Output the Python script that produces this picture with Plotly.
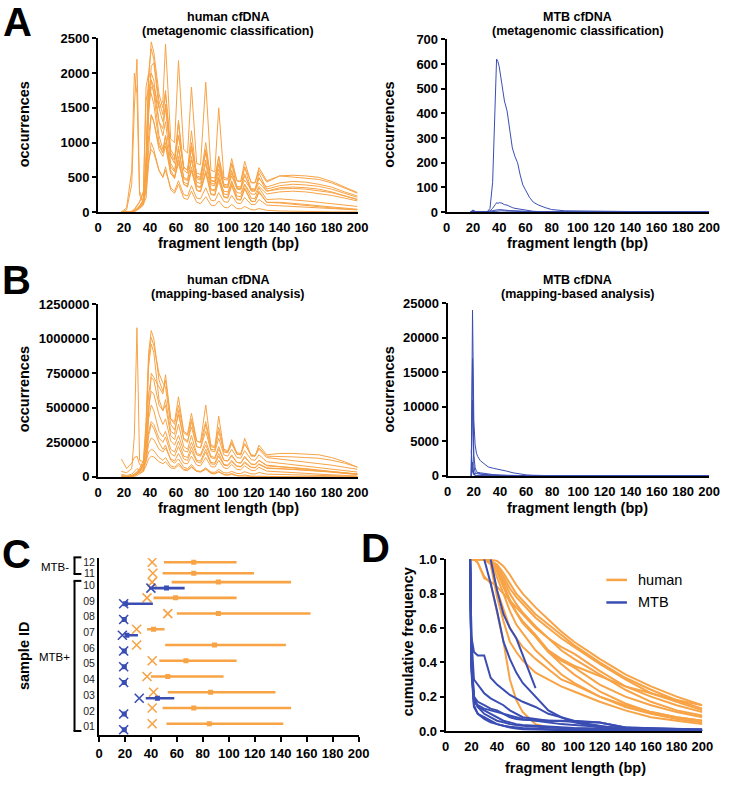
import plotly.graph_objects as go

W, H = 729, 790
ORANGE = "#F7A346"
BLUE = "#3A4DB3"
FONT = "Liberation Sans, Arial, sans-serif"

# ---------------- panel A / B : human fragment length profiles ----------------
# fragment lengths (bp) at which peaks / troughs were read off the picture
len_human = [18, 22, 26, 28, 30, 32, 35, 37, 39, 41, 43, 47, 50, 52, 56, 59, 62, 66, 69, 72, 76, 79,
             83, 87, 90, 93, 97, 100, 103, 107, 110, 113, 118, 121, 124, 130, 140, 150, 160, 170,
             180, 190, 200]

human_meta = [
    [0, 0, 0, 10, 30, 60, 150, 600, 1400, 1900, 1800, 1500, 1600, 2420, 1050, 1000, 2180, 900, 850, 1800, 700, 680, 1870, 600, 580, 1500, 500, 480, 770, 450, 440, 730, 420, 420, 640, 450, 520, 500, 490, 470, 420, 340, 270],
    [0, 0, 0, 10, 40, 80, 150, 700, 1900, 2450, 2300, 1700, 1500, 1750, 900, 800, 1100, 650, 600, 900, 520, 500, 860, 460, 440, 700, 400, 390, 560, 370, 360, 520, 340, 330, 480, 360, 420, 440, 430, 400, 360, 290, 230],
    [0, 0, 0, 15, 50, 90, 180, 800, 2000, 2350, 2200, 1600, 1400, 1700, 850, 750, 1320, 640, 600, 1170, 500, 480, 1000, 450, 430, 800, 380, 370, 700, 350, 340, 650, 320, 320, 560, 330, 380, 400, 390, 370, 330, 270, 210],
    [0, 0, 0, 10, 30, 60, 120, 500, 1500, 2100, 2150, 1500, 1300, 1550, 800, 700, 1280, 600, 560, 1000, 480, 460, 870, 420, 400, 700, 360, 350, 600, 330, 320, 550, 300, 300, 500, 300, 350, 360, 350, 330, 290, 240, 180],
    [0, 0, 10, 40, 100, 150, 300, 1800, 2000, 1900, 1700, 1100, 900, 1100, 600, 500, 800, 400, 370, 650, 320, 300, 600, 260, 250, 500, 220, 210, 400, 190, 180, 350, 160, 150, 300, 140, 130, 110, 90, 70, 60, 45, 35],
    [0, 0, 0, 10, 40, 80, 160, 700, 1700, 2000, 1900, 1300, 1100, 1300, 700, 600, 950, 480, 450, 750, 380, 360, 700, 320, 300, 560, 260, 250, 450, 230, 220, 400, 200, 190, 350, 180, 190, 180, 160, 140, 120, 100, 80],
    [0, 30, 400, 1500, 2200, 300, 150, 300, 900, 1400, 1300, 950, 850, 1100, 650, 580, 900, 500, 470, 800, 430, 410, 750, 390, 380, 620, 360, 350, 520, 340, 330, 460, 320, 310, 420, 300, 330, 340, 330, 310, 280, 230, 180],
    [0, 60, 600, 2000, 1700, 250, 120, 200, 700, 1000, 900, 600, 500, 650, 320, 270, 400, 200, 180, 300, 140, 120, 220, 100, 90, 160, 70, 60, 110, 50, 45, 80, 35, 30, 50, 25, 15, 10, 6, 4, 3, 2, 1],
    [0, 0, 10, 30, 90, 140, 280, 1600, 1800, 1700, 1550, 1000, 850, 1000, 560, 480, 750, 400, 360, 600, 310, 290, 560, 250, 240, 450, 210, 200, 380, 180, 170, 330, 150, 150, 280, 140, 140, 130, 110, 90, 70, 55, 40],
    [0, 0, 0, 10, 40, 70, 130, 600, 1500, 1800, 1750, 1300, 1200, 1500, 800, 750, 1100, 650, 600, 950, 560, 540, 900, 500, 490, 800, 470, 460, 700, 450, 440, 650, 430, 420, 600, 430, 520, 530, 520, 500, 440, 360, 280],
    [0, 0, 0, 10, 30, 60, 120, 400, 1100, 1400, 1300, 900, 800, 950, 550, 500, 700, 430, 400, 600, 370, 350, 560, 330, 320, 480, 300, 290, 430, 280, 270, 400, 260, 255, 370, 260, 290, 300, 290, 270, 240, 200, 160],
    [0, 0, 0, 10, 30, 50, 100, 350, 750, 900, 850, 600, 500, 600, 350, 300, 450, 250, 230, 380, 200, 190, 350, 170, 160, 280, 150, 140, 240, 130, 120, 210, 110, 105, 180, 100, 90, 80, 70, 60, 50, 40, 30],
]

# mapping-based human counts, in thousands
human_map_k = [
    [0, 0, 0, 5, 10, 20, 40, 150, 500, 750, 720, 650, 600, 740, 420, 400, 580, 330, 310, 460, 260, 250, 520, 220, 210, 440, 190, 180, 270, 165, 160, 280, 150, 150, 230, 160, 170, 170, 165, 160, 140, 110, 70],
    [0, 0, 0, 10, 30, 60, 120, 400, 900, 1060, 1000, 700, 620, 700, 420, 380, 520, 320, 300, 420, 260, 250, 400, 230, 220, 360, 200, 190, 250, 175, 170, 240, 160, 155, 200, 140, 130, 120, 110, 100, 85, 70, 55],
    [0, 0, 0, 10, 20, 50, 100, 350, 850, 1010, 950, 750, 680, 650, 380, 340, 450, 280, 260, 360, 220, 210, 330, 190, 180, 280, 160, 150, 200, 140, 135, 190, 125, 120, 160, 110, 100, 90, 80, 70, 60, 45, 35],
    [40, 30, 60, 300, 1080, 120, 110, 200, 500, 620, 600, 450, 380, 420, 260, 230, 300, 190, 180, 250, 160, 150, 230, 140, 130, 200, 120, 115, 150, 105, 100, 140, 95, 90, 120, 85, 75, 70, 60, 50, 40, 30, 20],
    [130, 60, 100, 140, 150, 90, 80, 120, 300, 380, 350, 250, 200, 230, 120, 100, 130, 70, 60, 90, 45, 40, 60, 30, 25, 40, 18, 15, 25, 10, 8, 15, 5, 4, 8, 3, 2, 1, 0, 0, 0, 0, 0],
    [0, 0, 0, 10, 20, 40, 90, 300, 800, 960, 900, 560, 480, 520, 300, 270, 380, 220, 200, 300, 170, 160, 260, 150, 140, 220, 120, 115, 160, 105, 100, 150, 90, 88, 120, 80, 75, 65, 55, 45, 35, 25, 18],
    [0, 0, 10, 20, 40, 50, 80, 200, 420, 520, 480, 330, 290, 330, 200, 180, 260, 150, 140, 220, 120, 115, 200, 105, 100, 170, 90, 85, 120, 80, 75, 110, 70, 68, 95, 65, 60, 55, 50, 42, 35, 25, 18],
    [0, 0, 10, 15, 30, 40, 60, 150, 330, 400, 380, 280, 250, 290, 170, 150, 220, 130, 120, 190, 110, 100, 180, 95, 90, 150, 85, 80, 110, 75, 72, 100, 68, 65, 90, 62, 60, 55, 50, 45, 38, 30, 22],
    [0, 0, 5, 10, 20, 30, 50, 120, 240, 280, 270, 200, 180, 210, 130, 115, 170, 100, 95, 150, 85, 80, 140, 75, 70, 120, 65, 60, 90, 55, 52, 80, 48, 46, 70, 42, 38, 32, 26, 20, 15, 10, 6],
    [20, 10, 20, 40, 60, 50, 60, 110, 180, 200, 190, 140, 120, 140, 80, 70, 100, 55, 50, 75, 40, 35, 55, 25, 22, 35, 15, 12, 18, 8, 6, 8, 4, 3, 4, 2, 1, 0, 0, 0, 0, 0, 0],
    [0, 0, 0, 10, 20, 40, 80, 250, 600, 720, 700, 520, 480, 560, 330, 310, 480, 270, 250, 400, 220, 210, 380, 200, 195, 330, 180, 175, 240, 165, 160, 240, 155, 152, 210, 150, 150, 145, 140, 135, 120, 100, 70],
    [10, 5, 10, 20, 30, 30, 40, 80, 130, 150, 145, 110, 95, 110, 65, 60, 85, 50, 45, 70, 40, 38, 65, 35, 33, 55, 30, 28, 40, 25, 24, 38, 22, 21, 32, 20, 18, 15, 12, 10, 8, 6, 4],
]

# ---------------- panel A / B : MTB fragment length profiles ----------------
len_mtb_meta = [18, 20, 22, 25, 28, 31, 33, 35, 37, 38, 39, 40, 42, 44, 46, 48, 50, 52, 54, 56,
                58, 60, 63, 66, 70, 75, 80, 90, 100, 120, 140, 160, 180, 200]
mtb_meta = [
    [0, 8, 2, 0, 0, 2, 15, 120, 450, 620, 610, 590, 520, 450, 410, 330, 260, 225, 200, 150, 110, 90, 60, 40, 28, 18, 10, 5, 4, 3, 2, 2, 2, 1],
    [0, 3, 1, 0, 0, 1, 5, 15, 30, 38, 35, 38, 36, 30, 28, 22, 18, 15, 13, 10, 8, 6, 4, 3, 2, 1, 1, 0, 0, 0, 0, 0, 0, 0],
    [0, 2, 1, 0, 0, 1, 3, 6, 9, 10, 9, 10, 8, 9, 7, 6, 5, 5, 4, 4, 3, 3, 2, 2, 1, 1, 0, 0, 0, 0, 0, 0, 0, 0],
    [0, 5, 1, 0, 0, 0, 1, 2, 4, 6, 5, 6, 5, 4, 4, 3, 3, 2, 2, 2, 1, 1, 1, 1, 0, 0, 0, 0, 0, 0, 0, 0, 0, 0],
]

len_mtb_map = [18, 19, 20, 21, 22, 23, 25, 28, 31, 35, 40, 45, 50, 55, 60, 65, 70, 80, 90, 100, 120, 150, 200]
mtb_map = [
    [0, 24000, 8000, 4500, 3300, 2800, 2200, 1700, 1300, 1100, 950, 700, 450, 250, 150, 100, 60, 30, 15, 10, 5, 3, 1],
    [0, 17000, 3000, 1200, 700, 500, 300, 200, 150, 100, 60, 40, 25, 15, 10, 5, 3, 2, 1, 0, 0, 0, 0],
    [0, 11000, 1500, 500, 350, 300, 250, 200, 150, 120, 90, 60, 40, 25, 15, 10, 5, 3, 2, 1, 0, 0, 0],
    [3700, 1000, 400, 300, 400, 500, 450, 350, 250, 180, 120, 80, 50, 30, 20, 10, 5, 3, 2, 1, 0, 0, 0],
    [0, 2000, 300, 100, 80, 60, 40, 30, 20, 15, 10, 5, 3, 2, 1, 0, 0, 0, 0, 0, 0, 0, 0],
    [0, 800, 150, 60, 40, 30, 20, 15, 10, 8, 5, 3, 2, 1, 0, 0, 0, 0, 0, 0, 0, 0, 0],
]

# ---------------- panel C : summary per sample ----------------
sample_ids = ["01", "02", "03", "04", "05", "06", "07", "08", "09", "10", "11", "12"]
sample_group = ["MTB+"] * 10 + ["MTB-"] * 2
human_mode = [41, 41, 42, 37, 41, 29, 29, 53, 37, 41, 41.5, 41]
human_q1 = [52, 49, 53, 40, 46.5, 51, 37, 60, 42, 56, 49, 50]
human_median = [85, 73, 86, 53, 67, 89, 42, 92, 59, 92, 73, 73]
human_q3 = [142, 148, 136, 96, 106, 144, 50.5, 163, 106, 148, 119.5, 106]
# MTB values exist only for the MTB+ samples (01-10)
mtb_mode = [19, 19, 31, 19, 19, 19, 18, 19, 19, 40]
mtb_q1 = [19, 19, 36, 19, 19, 19, 20, 19, 19.5, 38.5]
mtb_median = [19.5, 19.5, 45, 19.5, 19.5, 19.5, 21.5, 19.5, 20.5, 52]
mtb_q3 = [20, 20, 58, 20, 20, 20, 30, 20, 41.5, 66]

# ---------------- panel D : cumulative frequency ----------------
len_cum = [19, 20, 22, 25, 30, 35, 40, 45, 50, 55, 60, 70, 80, 90, 100, 120, 140, 160, 180, 200]
human_cum = [
    [None, 1, 1, 1, 1, 0.99, 0.96, 0.9, 0.83, 0.78, 0.74, 0.66, 0.6, 0.54, 0.49, 0.39, 0.3, 0.22, 0.17, 0.12],
    [None, 1, 1, 1, 1, 0.99, 0.93, 0.84, 0.75, 0.69, 0.64, 0.56, 0.47, 0.42, 0.38, 0.32, 0.26, 0.22, 0.18, 0.15],
    [None, 1, 1, 1, 1, 0.99, 0.95, 0.88, 0.8, 0.74, 0.69, 0.61, 0.54, 0.47, 0.42, 0.33, 0.24, 0.17, 0.12, 0.09],
    [None, 1, 1, 1, 1, 0.97, 0.78, 0.64, 0.52, 0.46, 0.41, 0.34, 0.3, 0.26, 0.23, 0.17, 0.12, 0.08, 0.06, 0.04],
    [None, 1, 1, 1, 1, 0.99, 0.9, 0.8, 0.7, 0.62, 0.57, 0.47, 0.4, 0.33, 0.28, 0.2, 0.14, 0.1, 0.07, 0.05],
    [None, 1, 1, 0.98, 0.89, 0.87, 0.84, 0.8, 0.76, 0.72, 0.68, 0.6, 0.54, 0.49, 0.45, 0.35, 0.26, 0.2, 0.15, 0.11],
    [None, 1, 1, 0.98, 0.9, 0.86, 0.68, 0.52, 0.3, 0.18, 0.11, 0.04, 0.02, 0.01, 0.005, 0, 0, 0, 0, 0],
    [None, 1, 1, 1, 1, 1, 0.99, 0.96, 0.91, 0.85, 0.8, 0.72, 0.65, 0.58, 0.52, 0.42, 0.33, 0.26, 0.2, 0.15],
    [None, 1, 1, 1, 1, 0.98, 0.82, 0.71, 0.6, 0.54, 0.49, 0.42, 0.36, 0.3, 0.27, 0.2, 0.15, 0.11, 0.08, 0.06],
    [None, 1, 1, 1, 1, 0.99, 0.97, 0.92, 0.86, 0.8, 0.76, 0.68, 0.62, 0.56, 0.5, 0.4, 0.31, 0.24, 0.18, 0.13],
    [None, 1, 1, 1, 1, 0.99, 0.93, 0.84, 0.76, 0.69, 0.63, 0.55, 0.46, 0.41, 0.37, 0.27, 0.2, 0.15, 0.11, 0.08],
    [None, 1, 1, 1, 1, 0.99, 0.94, 0.86, 0.76, 0.69, 0.63, 0.55, 0.46, 0.39, 0.33, 0.23, 0.16, 0.11, 0.08, 0.06],
]
mtb_cum = [
    [1, 0.4, 0.15, 0.1, 0.07, 0.05, 0.04, 0.03, 0.025, 0.02, 0.017, 0.013, 0.01, 0.008, 0.006, 0.004, 0.002, 0.001, 0, 0],
    [1, 0.45, 0.2, 0.14, 0.1, 0.08, 0.06, 0.05, 0.04, 0.035, 0.03, 0.025, 0.02, 0.017, 0.015, 0.01, 0.007, 0.005, 0.003, 0.002],
    [None, None, None, None, 1, 0.86, 0.7, 0.52, 0.42, 0.34, 0.28, 0.2, 0.12, 0.08, 0.05, 0.02, 0.01, 0.005, 0, 0],
    [1, 0.4, 0.18, 0.14, 0.12, 0.1, 0.08, 0.06, 0.05, 0.04, 0.035, 0.03, 0.025, 0.02, 0.018, 0.015, 0.01, 0.008, 0.006, 0.005],
    [1, 0.42, 0.2, 0.17, 0.15, 0.13, 0.12, 0.1, 0.08, 0.07, 0.065, 0.062, 0.06, 0.06, 0.058, 0.05, 0.02, 0.015, 0.01, 0.008],
    [1, 0.35, 0.14, 0.1, 0.08, 0.06, 0.04, 0.03, 0.02, 0.015, 0.01, 0.008, 0.006, 0.005, 0.004, 0.003, 0.002, 0.001, 0, 0],
    [1, 0.55, 0.3, 0.27, 0.22, 0.19, 0.17, 0.15, 0.12, 0.1, 0.08, 0.07, 0.06, 0.06, 0.055, 0.03, 0.01, 0.005, 0, 0],
    [1, 0.38, 0.17, 0.15, 0.13, 0.12, 0.11, 0.1, 0.09, 0.08, 0.07, 0.06, 0.05, 0.04, 0.035, 0.025, 0.02, 0.015, 0.012, 0.01],
    [1, 0.55, 0.46, 0.44, 0.44, 0.31, 0.27, 0.24, 0.21, 0.19, 0.17, 0.14, 0.1, 0.08, 0.06, 0.05, 0.02, 0.01, 0.005, 0.002],
    [None, None, None, None, None, 1, 0.82, 0.68, 0.6, 0.54, 0.44, 0.25, None, None, None, None, None, None, None, None],
]


def px_x(x):
    return x / W


def px_y(y):
    return 1 - y / H


fig = go.Figure()

# panel A
for ys in human_meta:
    fig.add_scatter(x=len_human, y=ys, mode="lines", line=dict(color=ORANGE, width=1), xaxis="x", yaxis="y")
for ys in mtb_meta:
    fig.add_scatter(x=len_mtb_meta, y=ys, mode="lines", line=dict(color=BLUE, width=1), xaxis="x2", yaxis="y2")

# panel B
for ys in human_map_k:
    fig.add_scatter(x=len_human, y=[v * 1000 for v in ys], mode="lines",
                    line=dict(color=ORANGE, width=1), xaxis="x3", yaxis="y3")
for ys in mtb_map:
    fig.add_scatter(x=len_mtb_map, y=ys, mode="lines", line=dict(color=BLUE, width=1), xaxis="x4", yaxis="y4")

# panel C: row positions (MTB- rows sit a bit tighter)
row_pos = [1, 2, 3, 4, 5, 6, 7, 8, 9, 10, 10.75, 11.45]
human_row = [p + (0.19 if g == "MTB+" else 0) for p, g in zip(row_pos, sample_group)]
mtb_row = [p - 0.19 for p, g in zip(row_pos, sample_group) if g == "MTB+"]


def summary(q1, q3, med, mode, rows, color):
    xs, ys = [], []
    for a, b, r in zip(q1, q3, rows):
        xs += [a, b, None]
        ys += [r, r, None]
    fig.add_scatter(x=xs, y=ys, mode="lines", line=dict(color=color, width=2.6), xaxis="x5", yaxis="y5")
    fig.add_scatter(x=med, y=rows, mode="markers", marker=dict(symbol="square", size=5, color=color),
                    xaxis="x5", yaxis="y5")
    fig.add_scatter(x=mode, y=rows, mode="markers",
                    marker=dict(symbol="x-thin-open", size=9, color=color, line=dict(width=1.6, color=color)),
                    xaxis="x5", yaxis="y5")


summary(human_q1, human_q3, human_median, human_mode, human_row, ORANGE)
summary(mtb_q1, mtb_q3, mtb_median, mtb_mode, mtb_row, BLUE)

# panel D
for ys in human_cum:
    fig.add_scatter(x=len_cum, y=ys, mode="lines", line=dict(color=ORANGE, width=2), xaxis="x6", yaxis="y6")
for ys in mtb_cum:
    fig.add_scatter(x=len_cum, y=ys, mode="lines", line=dict(color=BLUE, width=2), xaxis="x6", yaxis="y6")

tickfont = dict(family=FONT, size=13, color="black", weight="bold")
base = dict(showline=True, linecolor="black", linewidth=2, showgrid=False, zeroline=False,
            tickfont=tickfont, ticks="outside", ticklen=4, tickwidth=2, tickcolor="black", fixedrange=True)
xbase = dict(base, range=[0, 200], tickvals=list(range(0, 201, 20)), tickcolor="rgba(0,0,0,0)", ticklen=2)

# panel boxes in pixels: (left, right, top, bottom)
boxes = {
    "": (96, 361, 32, 209),
    "2": (452, 720, 33, 209),
    "3": (96, 361, 303, 479),
    "4": (453, 720, 302, 478),
    "5": (97, 362, 562, 742),
    "6": (451, 713, 563, 738),
}
yopts = {
    "": dict(range=[0, 2500], dtick=500),
    "2": dict(range=[0, 700], dtick=100),
    "3": dict(range=[0, 1250000], dtick=250000, tickformat="d"),
    "4": dict(range=[0, 25000], dtick=5000, tickformat="d"),
    "5": dict(range=[0.48, 11.7], tickvals=row_pos, ticktext=sample_ids, ticks="",
              tickfont=dict(family=FONT, size=10.5, color="#222222")),
    "6": dict(range=[0, 1], dtick=0.2, tickformat=".1f"),
}
layout_axes = {}
for k, (l, r, t, b) in boxes.items():
    xo = dict(xbase, domain=[px_x(l), px_x(r)], anchor="y" + k)
    if k == "5":
        xo.update(tickcolor="black", ticklen=5)
    layout_axes["xaxis" + k] = xo
    layout_axes["yaxis" + k] = dict(base, domain=[px_y(b), px_y(t)], anchor="x" + k, **yopts[k])

fig.update_layout(width=W, height=H, margin=dict(l=0, r=0, t=0, b=0), showlegend=False,
                  plot_bgcolor="white", paper_bgcolor="white", **layout_axes)


def label(text, x, y, size, bold=True, angle=0, color="black", xanchor="center"):
    fig.add_annotation(text=text, x=px_x(x), y=px_y(y), xref="paper", yref="paper", showarrow=False,
                       textangle=angle, xanchor=xanchor, yanchor="middle",
                       font=dict(family=FONT, size=size, color=color, weight="bold" if bold else "normal"))


# panel letters
label("A", 14, 15, 40)
label("B", 13, 278, 40)
label("C", 13, 558, 40)
label("D", 379, 551, 40)

# titles
label("human cfDNA", 229, 10, 12.5)
label("(metagenomic classification)", 229, 24, 12.5)
label("MTB cfDNA", 586, 10, 12.5)
label("(metagenomic classification)", 586, 24, 12.5)
label("human cfDNA", 229, 278, 12.5)
label("(mapping-based analysis)", 229, 293, 12.5)
label("MTB cfDNA", 586, 278, 12.5)
label("(mapping-based analysis)", 586, 293, 12.5)

# axis titles
for x, y in [(20, 120), (393, 120), (20, 390), (393, 390)]:
    label("occurrences", x, y, 14.5, angle=-90)
for x, y in [(229, 241), (586, 241), (229, 511), (586, 511), (583, 776)]:
    label("fragment length (bp)", x, y, 14.5)
label("sample ID", 21, 661, 14.5, angle=-90)
label("cumulative frequency", 412, 647, 14.5, angle=-90)

# group brackets in panel C
shapes = []


def seg(x0, y0, x1, y1, color="black", width=2):
    shapes.append(dict(type="line", xref="paper", yref="paper", x0=px_x(x0), y0=px_y(y0),
                       x1=px_x(x1), y1=px_y(y1), line=dict(color=color, width=width)))


for top, bot in [(561, 578), (585, 738)]:
    seg(72, top, 72, bot)
    seg(71, top, 79, top)
    seg(71, bot, 79, bot)
label("MTB-", 52, 571, 11.5, bold=False)
label("MTB+", 52, 663, 11.5, bold=False)

# legend in panel D
seg(615, 584, 636, 584, ORANGE, 2.5)
seg(615, 607, 636, 607, BLUE, 2.5)
label("human", 645, 584, 14.5, bold=False, xanchor="left")
label("MTB", 645, 607, 14.5, bold=False, xanchor="left")

fig.update_layout(shapes=shapes)
fig.write_html("out.html", config={"displayModeBar": False},
               post_script="document.body.style.margin='0';")
